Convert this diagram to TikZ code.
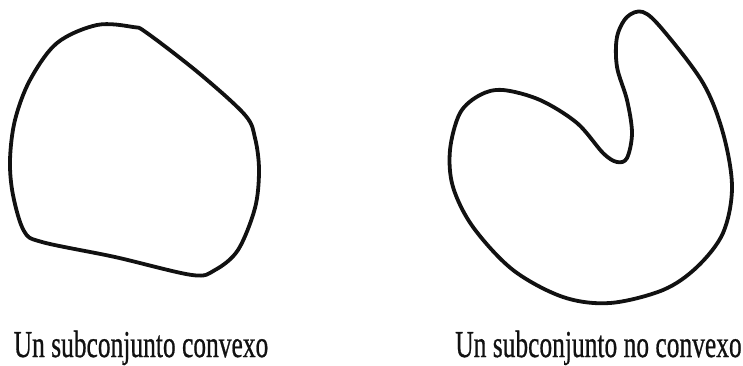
\documentclass[tikz,border=0pt]{standalone}
\usepackage{fontspec}
\setmainfont{Liberation Serif}[FakeBold=0.8]
\usepackage{graphicx}
\usepackage{tikz}
\usetikzlibrary{positioning}
\definecolor{cInk}{HTML}{111111}

\begin{document}
\begin{tikzpicture}[x=0.5pt, y=-0.5pt,
    outline/.style={draw=cInk, line width=1.9pt, line join=round},
    caption/.style={anchor=base, inner sep=0pt, text=cInk, font=\fontsize{19}{22}\selectfont}]
    \useasboundingbox (0,0) rectangle (743,365);
    % convex set
    \draw[outline] plot[smooth cycle, tension=0.55] coordinates {
      (97,25) (133,27) (147,33) (200,74) (245,115) (255,138) (259,170) (255,208)
      (238,250) (215,270) (192,275) (115,257) (42,242) (24,231) (13,195) (10,160)
      (15,120) (30,80) (57,43)};
    % non-convex set
    \draw[outline] plot[smooth cycle, tension=0.55] coordinates {
      (503,90) (540,100) (577,123) (603,153) (617,162) (627,158) (632,133) (627,100)
      (617,67) (617,37) (627,17) (643,12) (663,30) (703,83) (723,133) (732,187)
      (723,233) (697,267) (663,290) (610,303) (563,297) (513,270) (473,227) (453,187)
      (450,150) (460,113) (480,95)};
    \node[caption] (lblconv)    at (141,357)   {\scalebox{0.67}[1]{Un subconjunto convexo}};
    \node[caption] (lblnonconv) at (598.5,357) {\scalebox{0.67}[1]{Un subconjunto no convexo}};
\end{tikzpicture}
\end{document}
